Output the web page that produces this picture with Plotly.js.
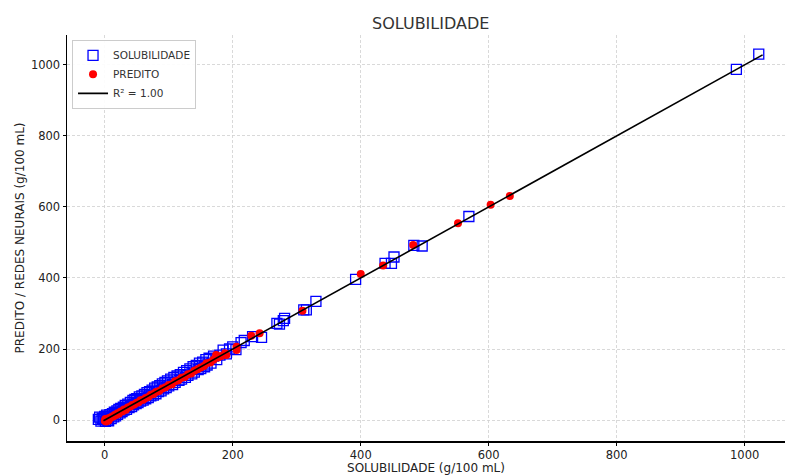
<!DOCTYPE html>
<html>
<head>
<meta charset="utf-8">
<script src="https://cdn.plot.ly/plotly-3.0.1.min.js"></script>
<style>html,body{margin:0;padding:0;background:#fff;}#chart{width:786px;height:475px;}</style>
</head>
<body>
<div id="chart"></div>
<script>
// SOLUBILIDADE (observed) markers
const solX = [-10,-8,-6,-4,-2,0,1,2,3,4,5,6,8,10,12,14,15,17,19,20,22,24,25,27,29,30,32,34,36,38,40,42,44,45,47,49,50,52,54,56,58,60,62,64,66,68,70,72,74,76,78,80,82,84,86,88,90,92,94,96,98,100,103,106,108,110,113,116,118,120,123,126,128,130,133,136,138,140,143,146,148,150,153,156,158,160,163,166,170,175,180,185,190,195,200,205,213,218,231,245,269,273,279,281,311,315,330,392,438,448,452,483,496,569,987,1022];
const solY = [2,8,-3,5,1,10,-4,6,14,0,9,-2,15,4,18,9,22,12,26,16,30,20,33,24,36,28,41,30,45,35,50,38,55,43,58,46,60,49,65,53,68,56,72,60,77,63,80,68,84,70,90,74,93,80,97,82,102,88,106,91,110,96,115,100,120,106,124,112,128,115,134,120,139,126,144,130,150,135,154,142,160,145,163,150,170,155,174,160,180,170,183,197,186,200,206,198,218,224,235,233,272,270,280,286,310,310,334,396,441,441,459,492,490,573,987,1030];
// PREDITO markers
const predX = [0,1,2,3,5,6,8,10,12,14,16,18,20,22,25,28,30,33,36,40,43,46,50,53,56,60,64,68,72,76,80,85,90,95,100,105,110,115,120,125,130,135,140,145,150,155,159,165,170,174,177,182,188,190,206,206,229,242,309,400,435,482,552,603,633];
const predY = [-2,3,-4,1,4,-1,6,8,10,11,15,14,19,18,24,25,30,29,35,38,42,44,49,50,56,57,62,65,71,73,79,82,89,92,99,101,109,112,119,121,129,131,139,143,148,152,160,162,170,183,176,180,188,183,206,197,237,244,308,411,435,493,554,606,631];
// Fit line (R² = 1.00)
const lineX = [-2, 1028];
const lineY = [-2, 1028];

const traces = [
  {x: solX, y: solY, type: 'scatter', mode: 'markers', name: 'SOLUBILIDADE',
   marker: {symbol: 'square-open', size: 10, color: '#0000ff', line: {width: 1.3, color: '#0000ff'}}},
  {x: predX, y: predY, type: 'scatter', mode: 'markers', name: 'PREDITO',
   marker: {symbol: 'circle', size: 8, color: '#ff0000'}},
  {x: lineX, y: lineY, type: 'scatter', mode: 'lines', name: 'R² = 1.00',
   line: {color: '#000000', width: 1.6}}
];

const axisCommon = {
  showline: true, linecolor: '#000', linewidth: 1.5, mirror: false,
  showgrid: true, gridcolor: '#d0d0d0', griddash: '3px,2px', gridwidth: 0.8,
  zeroline: false, ticks: 'outside', ticklen: 3, tickcolor: '#000', tickwidth: 1,
  tickfont: {family: 'DejaVu Sans', size: 11.5, color: '#222'}
};

const layout = {
  width: 786, height: 475,
  margin: {l: 67, r: 1, t: 35, b: 34},
  paper_bgcolor: '#fff', plot_bgcolor: '#fff',
  title: {text: 'SOLUBILIDADE', x: 0.548, xanchor: 'center', y: 0.95, yanchor: 'middle',
          font: {family: 'DejaVu Sans', size: 16, color: '#333'}},
  xaxis: Object.assign({}, axisCommon, {
    range: [-59, 1063], tickvals: [0,200,400,600,800,1000], ticklabelstandoff: 0,
    title: {text: 'SOLUBILIDADE (g/100 mL)', standoff: 0, font: {family: 'DejaVu Sans', size: 12, color: '#222'}}
  }),
  yaxis: Object.assign({}, axisCommon, {
    range: [-59, 1084], tickvals: [0,200,400,600,800,1000],
    title: {text: 'PREDITO / REDES NEURAIS (g/100 mL)', standoff: 3, font: {family: 'DejaVu Sans', size: 12, color: '#222'}}
  }),
  showlegend: true,
  legend: {x: 0.007, y: 0.988, xanchor: 'left', yanchor: 'top',
           bgcolor: 'rgba(255,255,255,0.9)', bordercolor: '#cccccc', borderwidth: 1,
           font: {family: 'DejaVu Sans', size: 10.5, color: '#333'}, tracegroupgap: 0, itemwidth: 30}
};

Plotly.newPlot('chart', traces, layout, {displayModeBar: false, staticPlot: true});
</script>
</body>
</html>
